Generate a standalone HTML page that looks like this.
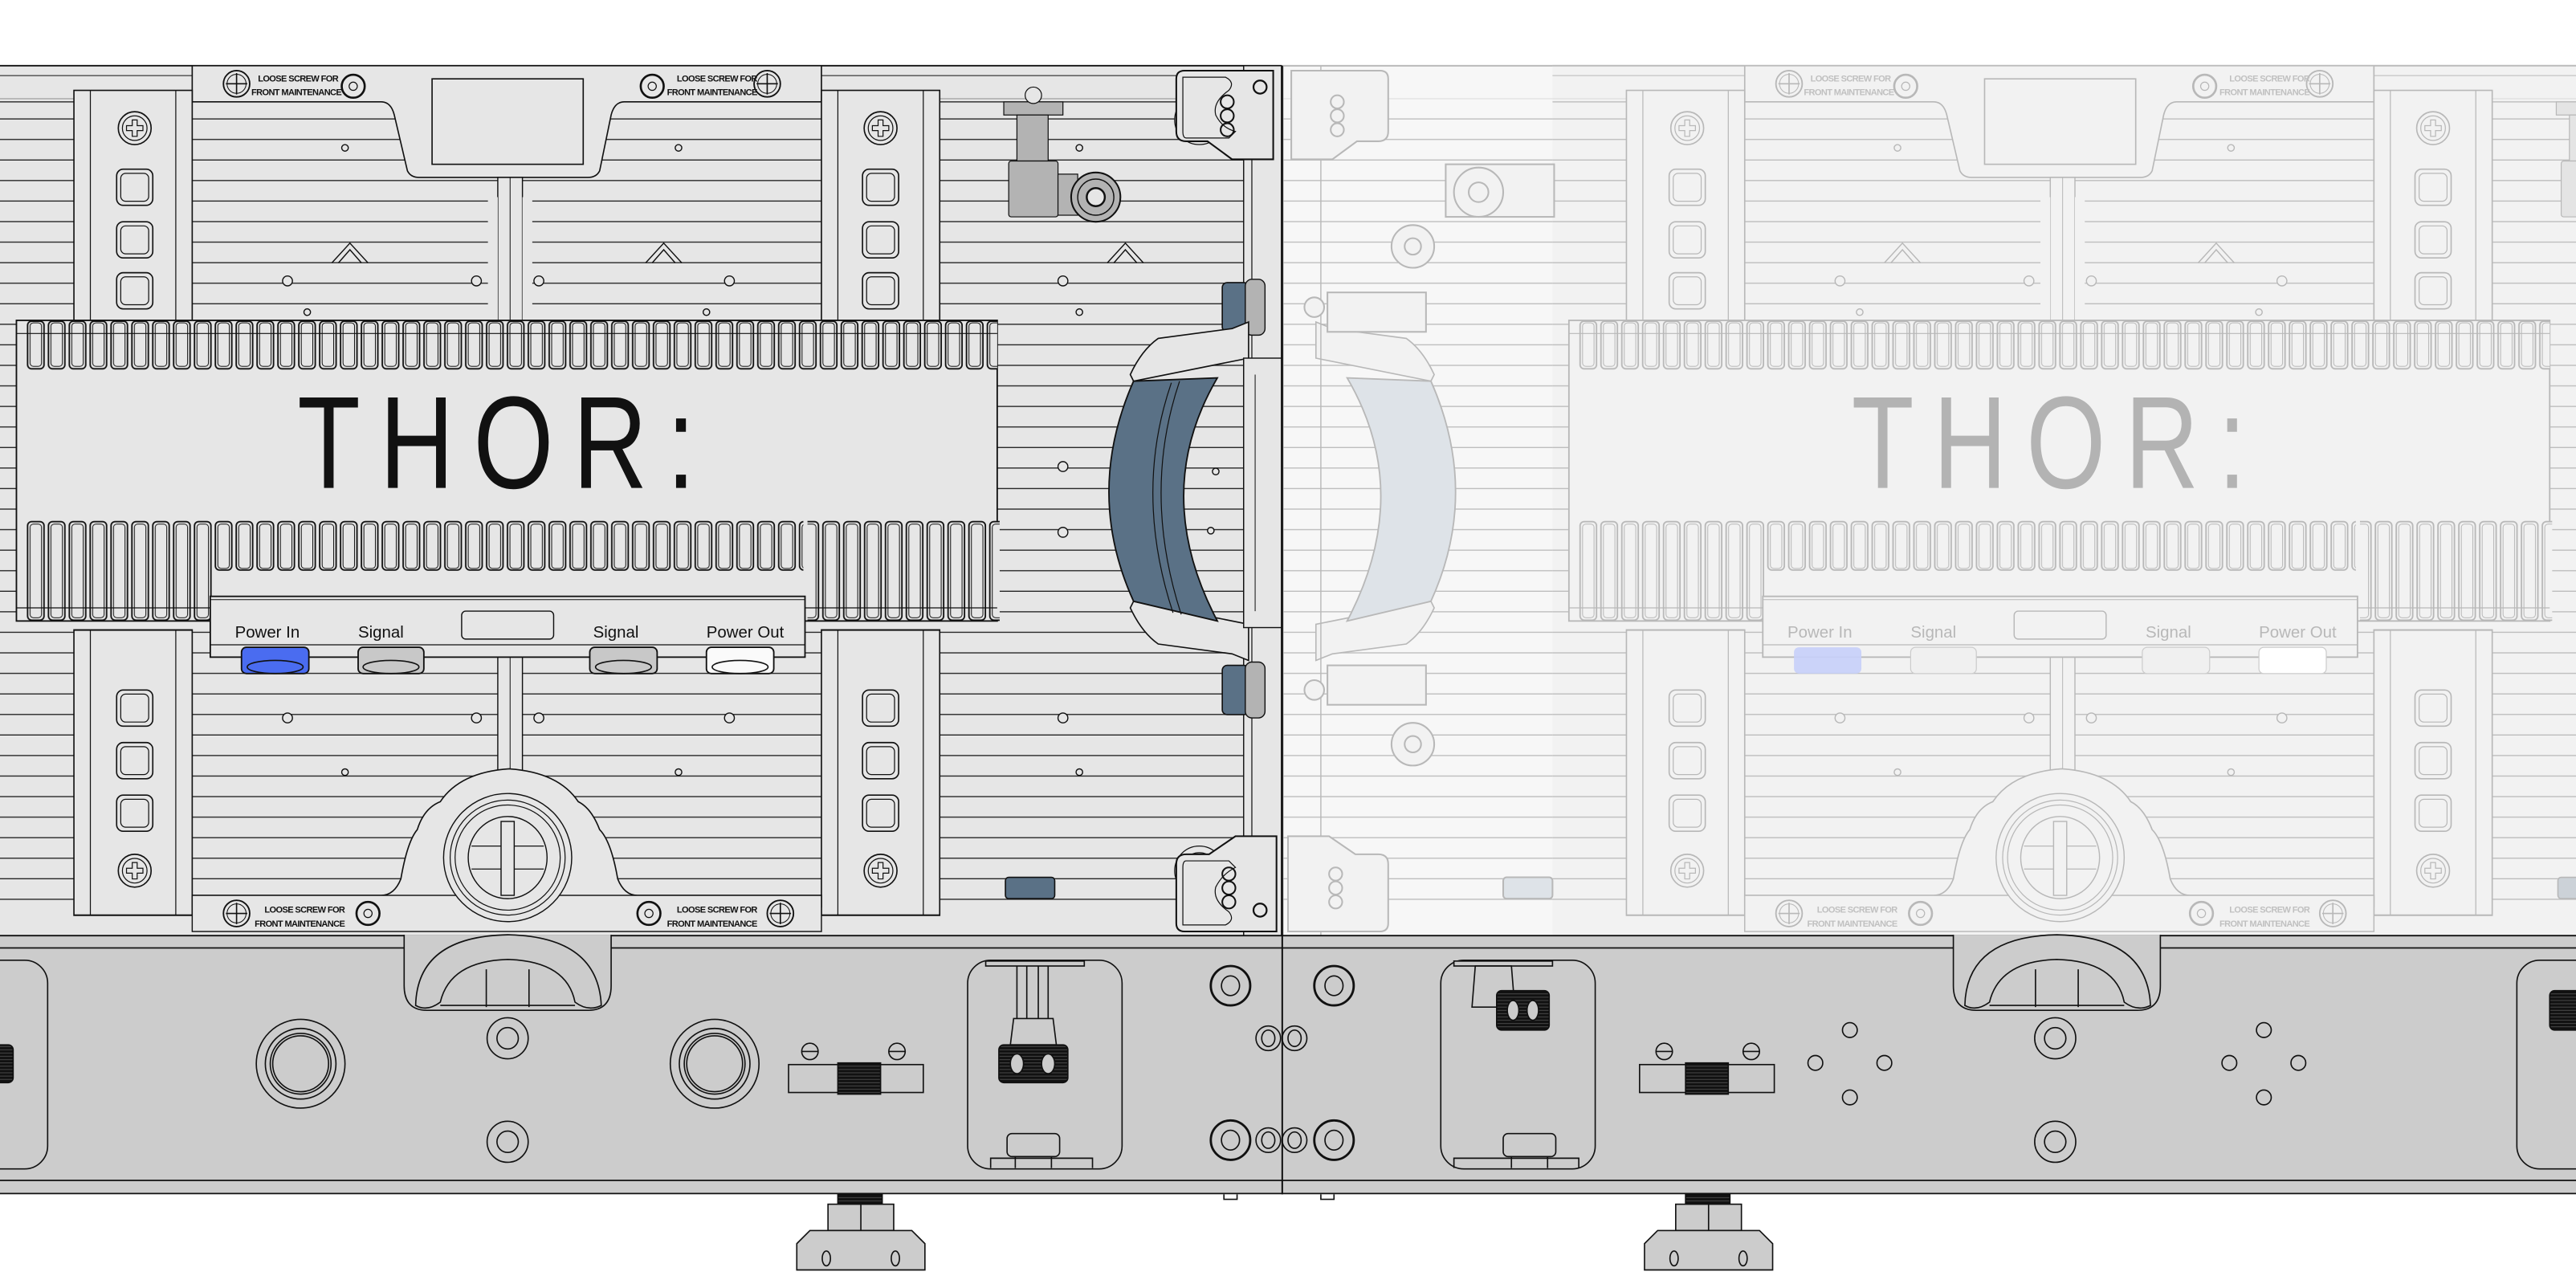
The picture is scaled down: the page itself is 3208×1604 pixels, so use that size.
<!DOCTYPE html>
<html><head><meta charset="utf-8"><style>
html,body{margin:0;padding:0;background:#fff;}
svg{display:block;}
.t{font-family:"Liberation Sans",sans-serif;}
</style></head><body>
<svg width="3208" height="1604" viewBox="0 0 1568 784" xmlns="http://www.w3.org/2000/svg">
<defs>
<pattern id="slat" patternUnits="userSpaceOnUse" x="0" y="72" width="20" height="12.5">
<line x1="0" y1="0.4" x2="20" y2="0.4" stroke="#222" stroke-width="0.7"/>
</pattern>
<pattern id="finT" patternUnits="userSpaceOnUse" x="16" y="195" width="12.7" height="40">
<rect x="0.8" y="0.5" width="10" height="29" rx="2.5" fill="#e6e6e6" stroke="#111" stroke-width="0.9"/>
<rect x="2.3" y="1.5" width="7" height="26.5" rx="2" fill="none" stroke="#111" stroke-width="0.5"/>
</pattern>
<pattern id="finB" patternUnits="userSpaceOnUse" x="16" y="317" width="12.7" height="80">
<rect x="0.8" y="0.5" width="10" height="29.5" rx="2.5" fill="#e6e6e6" stroke="#111" stroke-width="0.9"/>
<rect x="2.3" y="2" width="7" height="27" rx="2" fill="none" stroke="#111" stroke-width="0.5"/>
</pattern>
<pattern id="finL" patternUnits="userSpaceOnUse" x="16" y="317" width="12.7" height="80">
<rect x="0.8" y="0.5" width="10" height="60" rx="2.5" fill="#e6e6e6" stroke="#111" stroke-width="0.9"/>
<rect x="2.3" y="2" width="7" height="57" rx="2" fill="none" stroke="#111" stroke-width="0.5"/>
</pattern>
<pattern id="knurl" patternUnits="userSpaceOnUse" width="2" height="2">
<rect width="2" height="2" fill="#111"/><line x1="0" y1="1" x2="2" y2="1" stroke="#555" stroke-width="0.4"/>
</pattern>

<g id="sq">
<rect x="0" y="0" width="22" height="22" rx="4" fill="#e6e6e6" stroke="#111" stroke-width="0.8"/>
<rect x="2.5" y="2.5" width="17" height="17" rx="3" fill="none" stroke="#111" stroke-width="0.6"/>
</g>
<g id="screw">
<circle r="10" fill="#e6e6e6" stroke="#111" stroke-width="0.8"/>
<circle r="7.5" fill="none" stroke="#111" stroke-width="0.6"/>
<path d="M-1.5 -5h3v3.5h3.5v3h-3.5v3.5h-3v-3.5h-3.5v-3h3.5z" fill="none" stroke="#111" stroke-width="0.6"/>
</g>
<g id="col">
<rect x="0" y="0" width="72" height="140" fill="#e6e6e6" stroke="#111" stroke-width="0.8"/>
<line x1="10" y1="0" x2="10" y2="140" stroke="#111" stroke-width="0.6"/>
<line x1="62" y1="0" x2="62" y2="140" stroke="#111" stroke-width="0.6"/>
</g>
<g id="loose">
<circle cx="0" cy="0" r="8" fill="#e6e6e6" stroke="#111" stroke-width="0.9"/>
<path d="M0 -6.5V6.5M-6.5 0H6.5" stroke="#111" stroke-width="0.8"/>
<circle cx="0" cy="0" r="5.8" fill="none" stroke="#111" stroke-width="0.5"/>
</g>
<g id="loose2">
<circle cx="0" cy="0" r="7" fill="#e6e6e6" stroke="#111" stroke-width="1.3"/>
<circle cx="0" cy="0" r="2.5" fill="none" stroke="#111" stroke-width="0.6"/>
</g>

<!-- The panel body (shapes only) -->
<g id="P">
<rect x="0" y="40" width="780" height="530" fill="#e6e6e6"/>
<rect x="0" y="60" width="760" height="490" fill="url(#slat)"/>
<line x1="0" y1="40" x2="780" y2="40" stroke="#111" stroke-width="0.9"/>
<line x1="0" y1="46" x2="760" y2="46" stroke="#111" stroke-width="0.5"/>
<line x1="0" y1="62" x2="760" y2="62" stroke="#111" stroke-width="0.6"/>
<!-- top plate -->
<path d="M117 40 H500 V62 H380 Q374 62 372 70 L365 104 Q363 108 358 108 H255 Q250 108 248 104 L240 70 Q238 62 232 62 H117 Z" fill="#e6e6e6" stroke="#111" stroke-width="0.8"/>
<rect x="263" y="48" width="92" height="52" fill="#e6e6e6" stroke="#111" stroke-width="0.8"/>
<use href="#loose" x="144" y="51"/><use href="#loose2" x="215" y="52.5"/>
<use href="#loose2" x="397" y="52.5"/><use href="#loose" x="467" y="51"/>
<!-- central bar -->
<rect x="303" y="108" width="15" height="90" fill="#e6e6e6" stroke="#111" stroke-width="0.7"/>
<line x1="310.5" y1="108" x2="310.5" y2="198" stroke="#111" stroke-width="0.5"/>
<rect x="303" y="398" width="15" height="72" fill="#e6e6e6" stroke="#111" stroke-width="0.7"/>
<line x1="310.5" y1="398" x2="310.5" y2="470" stroke="#111" stroke-width="0.5"/>
<!-- gap lines beside center bar -->
<rect x="297" y="120" width="6" height="75" fill="#e6e6e6"/><rect x="318" y="120" width="6" height="75" fill="#e6e6e6"/>
<!-- triangles -->
<path d="M202 160 L213 148 L224 160 M206 160 L213 152 L220 160" fill="none" stroke="#111" stroke-width="0.7"/>
<path d="M393 160 L404 148 L415 160 M397 160 L404 152 L411 160" fill="none" stroke="#111" stroke-width="0.7"/>
<path d="M674 160 L685 148 L696 160 M678 160 L685 152 L692 160" fill="none" stroke="#111" stroke-width="0.7"/>
<!-- small holes -->
<g fill="#e6e6e6" stroke="#111" stroke-width="0.7">
<circle cx="210" cy="90" r="2"/><circle cx="413" cy="90" r="2"/><circle cx="657" cy="90" r="2"/>
<circle cx="187" cy="190" r="2"/><circle cx="430" cy="190" r="2"/><circle cx="657" cy="190" r="2"/>
<circle cx="175" cy="171" r="3"/><circle cx="290" cy="171" r="3"/><circle cx="328" cy="171" r="3"/><circle cx="444" cy="171" r="3"/><circle cx="647" cy="171" r="3"/>
<circle cx="647" cy="284" r="3"/><circle cx="647" cy="324" r="3"/><circle cx="740" cy="287" r="2"/><circle cx="737" cy="323" r="2"/>
<circle cx="175" cy="437" r="3"/><circle cx="290" cy="437" r="3"/><circle cx="328" cy="437" r="3"/><circle cx="444" cy="437" r="3"/><circle cx="647" cy="437" r="3"/>
<circle cx="210" cy="470" r="2"/><circle cx="413" cy="470" r="2"/><circle cx="657" cy="470" r="2"/>
</g>
<!-- upper columns -->
<use href="#col" x="45" y="55"/><use href="#col" x="500" y="55"/>
<use href="#screw" x="82" y="78"/><use href="#screw" x="536" y="78"/>
<use href="#sq" x="71" y="103"/><use href="#sq" x="71" y="135"/><use href="#sq" x="71" y="166"/>
<use href="#sq" x="525" y="103"/><use href="#sq" x="525" y="135"/><use href="#sq" x="525" y="166"/>
<!-- lower columns -->
<use href="#col" x="45" y="400" transform="translate(0,-22) scale(1,1.24) translate(0,-73)"/>
<use href="#col" x="500" y="400" transform="translate(0,-22) scale(1,1.24) translate(0,-73)"/>
<use href="#sq" x="71" y="420"/><use href="#sq" x="71" y="452"/><use href="#sq" x="71" y="484"/>
<use href="#sq" x="525" y="420"/><use href="#sq" x="525" y="452"/><use href="#sq" x="525" y="484"/>
<use href="#screw" x="82" y="530"/><use href="#screw" x="536" y="530"/>
<!-- bottom plate with round cap -->
<path d="M117 552 H500 V545 H388 Q380 545 376 535 Q372 512 365 505 Q360 492 352 488 Q340 470 310 468 Q280 470 268 488 Q258 492 254 505 Q248 512 244 535 Q240 545 232 545 H117 Z" fill="#e6e6e6" stroke="#111" stroke-width="0.8"/>
<rect x="117" y="545" width="383" height="22" fill="#e6e6e6" stroke="#111" stroke-width="0.7"/>
<ellipse cx="309" cy="522" rx="39" ry="39" fill="#e6e6e6" stroke="#111" stroke-width="0.7"/>
<ellipse cx="309" cy="522" rx="35" ry="35" fill="none" stroke="#111" stroke-width="0.6"/>
<ellipse cx="309" cy="522" rx="32" ry="32" fill="none" stroke="#111" stroke-width="0.6"/>
<ellipse cx="309" cy="522" rx="24" ry="25" fill="none" stroke="#111" stroke-width="0.7"/>
<rect x="305" y="500" width="8" height="45" fill="#e6e6e6" stroke="#111" stroke-width="0.7"/>
<path d="M287 515h18M313 515h18M287 529h18M313 529h18" stroke="#111" stroke-width="0.6"/>
<use href="#loose" x="144" y="556"/><use href="#loose2" x="224" y="556"/>
<use href="#loose2" x="395" y="556"/><use href="#loose" x="475" y="556"/>
<!-- heat sink -->
<rect x="10" y="195" width="597" height="183" fill="#e6e6e6" stroke="#111" stroke-width="0.9"/>
<rect x="16" y="195" width="591" height="31" fill="url(#finT)"/>
<line x1="10" y1="203" x2="607" y2="203" stroke="#111" stroke-width="0.6"/>
<rect x="16" y="317" width="114" height="62" fill="url(#finL)"/>
<rect x="130" y="317" width="359" height="31" fill="url(#finB)"/>
<rect x="490" y="317" width="117" height="62" fill="url(#finL)" transform="translate(1.5,0)"/>
<line x1="10" y1="370" x2="607" y2="370" stroke="#111" stroke-width="0.6"/>
<!-- port plate -->
<rect x="128" y="363" width="362" height="37" fill="#e6e6e6" stroke="#111" stroke-width="0.9"/>
<line x1="128" y1="365" x2="490" y2="365" stroke="#111" stroke-width="0.5"/>
<line x1="128" y1="392.5" x2="490" y2="392.5" stroke="#111" stroke-width="0.6"/>
<rect x="281" y="372" width="56" height="17" rx="2.5" fill="none" stroke="#111" stroke-width="0.7"/>
<!-- right edge rail -->
<rect x="757" y="40" width="23" height="530" fill="#e6e6e6" stroke="#111" stroke-width="0.7"/>
<line x1="762" y1="97" x2="762" y2="510" stroke="#111" stroke-width="0.6"/>
<!-- gray latch -->
<rect x="611" y="62" width="36" height="8" fill="#b3b3b3" stroke="#111" stroke-width="0.6"/>
<rect x="619" y="70" width="19" height="28" fill="#b3b3b3" stroke="#111" stroke-width="0.6"/>
<rect x="614" y="98" width="30" height="34" rx="1.5" fill="#b3b3b3" stroke="#111" stroke-width="0.6"/>
<rect x="644" y="106" width="12" height="25" fill="#b3b3b3" stroke="#111" stroke-width="0.6"/>
<circle cx="629" cy="58" r="5" fill="#e6e6e6" stroke="#111" stroke-width="0.6"/>
<circle cx="667" cy="120" r="15" fill="#b3b3b3" stroke="#111" stroke-width="1"/>
<circle cx="667" cy="120" r="11" fill="none" stroke="#111" stroke-width="0.7"/>
<circle cx="667" cy="120" r="5.5" fill="#e6e6e6" stroke="#111" stroke-width="1.2"/>
<!-- top latch -->
<circle cx="730" cy="73" r="15" fill="#e6e6e6" stroke="#111" stroke-width="0.6"/>
<circle cx="730" cy="73" r="11" fill="none" stroke="#111" stroke-width="0.6"/>
<path d="M716 48 Q716 43 721 43 H775 V97 H750 L735 86 H722 Q716 86 716 80 Z" fill="#e6e6e6" stroke="#111" stroke-width="1"/>
<path d="M720 47 H746 Q752 50 748 55 Q738 62 740 70 Q744 78 752 80 L748 84 H722 Q720 84 720 80 Z" fill="none" stroke="#111" stroke-width="0.6"/>
<circle cx="747" cy="62" r="4" fill="none" stroke="#111" stroke-width="1"/><circle cx="747" cy="70.5" r="4" fill="none" stroke="#111" stroke-width="1"/><circle cx="747" cy="79" r="4" fill="none" stroke="#111" stroke-width="1"/>
<circle cx="767" cy="53" r="4" fill="none" stroke="#111" stroke-width="1.1"/>
<!-- bottom latch -->
<circle cx="730" cy="530" r="15" fill="#e6e6e6" stroke="#111" stroke-width="0.6"/>
<circle cx="730" cy="530" r="11" fill="none" stroke="#111" stroke-width="0.6"/>
<path d="M716 562 Q716 567 721 567 H777 V509 H752 L736 520 H722 Q716 520 716 526 Z" fill="#e6e6e6" stroke="#111" stroke-width="1"/>
<path d="M720 563 H746 Q752 560 748 555 Q738 548 740 540 Q744 532 752 528 L748 524 H722 Q720 524 720 528 Z" fill="none" stroke="#111" stroke-width="0.6"/>
<circle cx="748" cy="532" r="4" fill="none" stroke="#111" stroke-width="1"/><circle cx="748" cy="540.5" r="4" fill="none" stroke="#111" stroke-width="1"/><circle cx="748" cy="549" r="4" fill="none" stroke="#111" stroke-width="1"/>
<circle cx="767" cy="554" r="4" fill="none" stroke="#111" stroke-width="1.1"/>
<!-- blue tabs -->
<rect x="744" y="172" width="16" height="30" rx="3" fill="#5a7186" stroke="#111" stroke-width="0.8"/>
<rect x="758" y="170" width="12" height="34" rx="4" fill="#b3b3b3" stroke="#111" stroke-width="0.7"/>
<rect x="744" y="405" width="16" height="30" rx="3" fill="#5a7186" stroke="#111" stroke-width="0.8"/>
<rect x="758" y="403" width="12" height="34" rx="4" fill="#b3b3b3" stroke="#111" stroke-width="0.7"/>
<rect x="612" y="534" width="30" height="13" rx="2" fill="#5a7186" stroke="#111" stroke-width="0.8"/>
<!-- handle frame -->
<path d="M760 196 L750 200 L705 206 Q695 213 688 228 L690 232 L760 218 Z" fill="#e6e6e6" stroke="#111" stroke-width="0.8"/>
<path d="M760 402 L750 398 L705 392 Q695 385 688 370 L690 366 L760 380 Z" fill="#e6e6e6" stroke="#111" stroke-width="0.8"/>
<rect x="757" y="218" width="23" height="164" fill="#e6e6e6" stroke="#111" stroke-width="0.7"/>
<line x1="764" y1="228" x2="764" y2="372" stroke="#111" stroke-width="0.5"/>
<path d="M690 232 Q660 300 690 366 L741 378 Q700 300 741 230 Z" fill="#5a7186" stroke="#111" stroke-width="0.9"/>
<path d="M713 233 Q690 300 714 373 M718 232 Q695 300 719 374" fill="none" stroke="#111" stroke-width="0.6"/>
</g>
</defs>

<!-- Right (faded) panel -->
<rect x="780" y="40" width="788" height="530" fill="#f7f7f7"/>
<g opacity="0.27">
<rect x="780" y="60" width="788" height="490" fill="url(#slat)"/>
<line x1="780" y1="40" x2="1568" y2="40" stroke="#111"/>
<svg x="780" y="0" width="788" height="784" viewBox="780 0 788 784" overflow="hidden">
<use href="#P" x="945" y="0"/>
<!-- mirrored handle + latches near seam -->
<g transform="translate(1561,0) scale(-1,1)">
<path d="M760 196 L750 200 L705 206 Q695 213 688 228 L690 232 L760 218 Z" fill="#e6e6e6" stroke="#111" stroke-width="0.8"/>
<path d="M760 402 L750 398 L705 392 Q695 385 688 370 L690 366 L760 380 Z" fill="#e6e6e6" stroke="#111" stroke-width="0.8"/>
<path d="M690 232 Q660 300 690 366 L741 378 Q700 300 741 230 Z" fill="#9fb0c2" stroke="#111" stroke-width="0.9"/>
<rect x="757" y="40" width="23" height="530" fill="none" stroke="#111" stroke-width="0.7"/>
<path d="M716 48 Q716 43 721 43 H775 V97 H750 L735 86 H722 Q716 86 716 80 Z" fill="#e6e6e6" stroke="#111" stroke-width="1"/>
<circle cx="747" cy="62" r="4" fill="none" stroke="#111"/><circle cx="747" cy="70.5" r="4" fill="none" stroke="#111"/><circle cx="747" cy="79" r="4" fill="none" stroke="#111"/>
<path d="M716 562 Q716 567 721 567 H777 V509 H752 L736 520 H722 Q716 520 716 526 Z" fill="#e6e6e6" stroke="#111" stroke-width="1"/>
<circle cx="748" cy="532" r="4" fill="none" stroke="#111"/><circle cx="748" cy="540.5" r="4" fill="none" stroke="#111"/><circle cx="748" cy="549" r="4" fill="none" stroke="#111"/>
</g>
<rect x="808" y="178" width="60" height="24" fill="#e6e6e6" stroke="#111"/><circle cx="860" cy="150" r="13" fill="#e6e6e6" stroke="#111"/><circle cx="860" cy="150" r="5" fill="none" stroke="#111"/>
<rect x="808" y="405" width="60" height="24" fill="#e6e6e6" stroke="#111"/><circle cx="860" cy="453" r="13" fill="#e6e6e6" stroke="#111"/><circle cx="860" cy="453" r="5" fill="none" stroke="#111"/>
<circle cx="800" cy="187" r="6" fill="#e6e6e6" stroke="#111"/><circle cx="800" cy="420" r="6" fill="#e6e6e6" stroke="#111"/>
<rect x="880" y="100" width="66" height="32" fill="#e6e6e6" stroke="#111"/><circle cx="900" cy="117" r="15" fill="#e6e6e6" stroke="#111"/><circle cx="900" cy="117" r="6" fill="none" stroke="#111"/>
<rect x="915" y="534" width="30" height="13" rx="2" fill="#9fb0c2" stroke="#111"/>
</svg>
</g>
<!-- faded port colors -->
<rect x="1092" y="394" width="41" height="16" rx="3" fill="#c7cffa" opacity="0.9"/>
<rect x="1163" y="394" width="40" height="16" rx="3" fill="#f0f0f0" stroke="#ccc" stroke-width="0.6"/>
<rect x="1304" y="394" width="41" height="16" rx="3" fill="#f0f0f0" stroke="#ccc" stroke-width="0.6"/>
<rect x="1375" y="394" width="41" height="16" rx="3" fill="#fff" stroke="#ccc" stroke-width="0.6"/>

<!-- Left panel -->
<svg x="0" y="0" width="781" height="784" viewBox="0 0 781 784" overflow="hidden"><use href="#P"/></svg>
<line x1="780.5" y1="40" x2="780.5" y2="726" stroke="#111" stroke-width="1"/>

<!-- ports left -->
<g stroke="#111" stroke-width="0.9">
<rect x="147" y="394" width="41" height="16" rx="3" fill="#4a6cf0"/>
<rect x="218" y="394" width="40" height="16" rx="3" fill="#c8c8c8"/>
<rect x="359" y="394" width="41" height="16" rx="3" fill="#c8c8c8"/>
<rect x="430" y="394" width="41" height="16" rx="3" fill="#fafafa"/>
</g>
<g fill="none" stroke="#111" stroke-width="0.8">
<ellipse cx="167.5" cy="406" rx="17" ry="4"/><ellipse cx="238" cy="406" rx="17" ry="4"/><ellipse cx="379.5" cy="406" rx="17" ry="4"/><ellipse cx="450.5" cy="406" rx="17" ry="4"/>
</g>

<!-- TEXT -->
<text class="t" x="181" y="297" font-size="80" letter-spacing="15" fill="#111" textLength="254" lengthAdjust="spacingAndGlyphs">THOR:</text>
<text class="t" x="1127" y="297" font-size="80" letter-spacing="15" fill="#b3b3b3" textLength="252" lengthAdjust="spacingAndGlyphs">THOR:</text>
<g class="t" font-size="10" fill="#111">
<text x="143" y="388">Power  In</text><text x="218" y="388">Signal</text><text x="361" y="388">Signal</text><text x="430" y="388">Power  Out</text>
</g>
<g class="t" font-size="10" fill="#b8b8b8">
<text x="1088" y="388">Power  In</text><text x="1163" y="388">Signal</text><text x="1306" y="388">Signal</text><text x="1375" y="388">Power  Out</text>
</g>
<g class="t" font-size="5.4" font-weight="bold" fill="#111" letter-spacing="-0.3">
<text x="157" y="49.5">LOOSE SCREW FOR</text><text x="153" y="58">FRONT MAINTENANCE</text>
<text x="412" y="49.5">LOOSE SCREW FOR</text><text x="406" y="58">FRONT MAINTENANCE</text>
<text x="161" y="555.5">LOOSE SCREW FOR</text><text x="155" y="564">FRONT MAINTENANCE</text>
<text x="412" y="555.5">LOOSE SCREW FOR</text><text x="406" y="564">FRONT MAINTENANCE</text>
</g>
<g class="t" font-size="5.4" font-weight="bold" fill="#c0c0c0" letter-spacing="-0.3">
<text x="1102" y="49.5">LOOSE SCREW FOR</text><text x="1098" y="58">FRONT MAINTENANCE</text>
<text x="1357" y="49.5">LOOSE SCREW FOR</text><text x="1351" y="58">FRONT MAINTENANCE</text>
<text x="1106" y="555.5">LOOSE SCREW FOR</text><text x="1100" y="564">FRONT MAINTENANCE</text>
<text x="1357" y="555.5">LOOSE SCREW FOR</text><text x="1351" y="564">FRONT MAINTENANCE</text>
</g>

<!-- Bottom bar -->
<rect x="0" y="569.5" width="1568" height="157" fill="#cccccc"/>
<g stroke="#111" stroke-width="0.9" fill="none">
<line x1="0" y1="569.5" x2="1568" y2="569.5"/>
<line x1="0" y1="577" x2="1568" y2="577"/>
<line x1="0" y1="718.5" x2="1568" y2="718.5"/>
<line x1="0" y1="726.5" x2="1568" y2="726.5"/>
</g>
<line x1="780.5" y1="569" x2="780.5" y2="727" stroke="#111" stroke-width="1"/>

<!-- cutouts with arch -->
<g id="arch" stroke="#111" stroke-width="0.8">
<path d="M246 569 V600 Q246 615 260 615 H358 Q372 615 372 600 V569" fill="#cccccc"/>
<path d="M253 612 Q254 570 309 569 Q364 570 366 612 Q358 616 350 610 Q345 585 309 584 Q274 585 268 610 Q260 616 253 612 Z" fill="#cccccc"/>
<path d="M296 590 V613 M322 590 V613 M268 612 H350" fill="none"/>
</g>
<use href="#arch" x="943"/>

<g fill="none" stroke="#111" stroke-width="0.8">
<!-- big holes -->
<circle cx="183" cy="647.5" r="27"/><circle cx="183" cy="647.5" r="21.5"/><circle cx="183" cy="647.5" r="18.5"/><circle cx="183" cy="647.5" r="17"/>
<circle cx="435" cy="647.5" r="27"/><circle cx="435" cy="647.5" r="21.5"/><circle cx="435" cy="647.5" r="18.5"/><circle cx="435" cy="647.5" r="17"/>
<circle cx="309" cy="632" r="12.5"/><circle cx="309" cy="632" r="6.5"/>
<circle cx="309" cy="695" r="12.5"/><circle cx="309" cy="695" r="6.5"/>
<circle cx="1251" cy="632" r="12.5"/><circle cx="1251" cy="632" r="6.5"/>
<circle cx="1251" cy="695" r="12.5"/><circle cx="1251" cy="695" r="6.5"/>
<!-- seam holes -->
<ellipse cx="749" cy="600" rx="12" ry="12" stroke-width="1.4"/><ellipse cx="749" cy="600" rx="5.5" ry="6"/>
<ellipse cx="812" cy="600" rx="12" ry="12" stroke-width="1.4"/><ellipse cx="812" cy="600" rx="5.5" ry="6"/>
<ellipse cx="749" cy="694" rx="12" ry="12" stroke-width="1.4"/><ellipse cx="749" cy="694" rx="5.5" ry="6"/>
<ellipse cx="812" cy="694" rx="12" ry="12" stroke-width="1.4"/><ellipse cx="812" cy="694" rx="5.5" ry="6"/>
<ellipse cx="772" cy="632" rx="7.5" ry="7.5"/><ellipse cx="772" cy="632" rx="4" ry="5"/>
<ellipse cx="788" cy="632" rx="7.5" ry="7.5"/><ellipse cx="788" cy="632" rx="4" ry="5"/>
<ellipse cx="772" cy="694" rx="7.5" ry="7.5"/><ellipse cx="772" cy="694" rx="4" ry="5"/>
<ellipse cx="788" cy="694" rx="7.5" ry="7.5"/><ellipse cx="788" cy="694" rx="4" ry="5"/>
<!-- 4 hole patterns -->
<circle cx="1105" cy="647" r="4.5"/><circle cx="1126" cy="627" r="4.5"/><circle cx="1147" cy="647" r="4.5"/><circle cx="1126" cy="668" r="4.5"/>
<circle cx="1357" cy="647" r="4.5"/><circle cx="1378" cy="627" r="4.5"/><circle cx="1399" cy="647" r="4.5"/><circle cx="1378" cy="668" r="4.5"/>
<!-- rounded pockets -->
<rect x="589" y="584.5" width="94" height="127" rx="14"/>
<rect x="877" y="584.5" width="94" height="127" rx="14"/>
<rect x="-70" y="584.5" width="99" height="127" rx="14"/>
<rect x="1532" y="584.5" width="94" height="127" rx="14"/>
</g>
<!-- left pocket knob -->
<g stroke="#111" stroke-width="0.8">
<rect x="600" y="585" width="60" height="3" fill="#cccccc"/>
<path d="M619 588 V620 M625 588 V620 M632 588 V620 M638 588 V620" fill="none"/>
<path d="M617 620 H641 L643 636 H615 Z" fill="#cccccc"/>
<rect x="608" y="636" width="42" height="23" rx="3" fill="url(#knurl)"/>
<ellipse cx="619" cy="647.5" rx="4" ry="6" fill="#cccccc"/><ellipse cx="638" cy="647.5" rx="4" ry="6" fill="#cccccc"/>
<rect x="613" y="690" width="32" height="14" rx="3" fill="#cccccc"/>
<path d="M603 711 V705 H665 V711 M618 704 V711 M640 704 V711" fill="none"/>
<!-- right pocket knob -->
<rect x="885" y="585" width="60" height="3" fill="#cccccc"/>
<path d="M898 588 H920 L922 613 H912 L896 613 Z" fill="#cccccc"/>
<rect x="911" y="603" width="32" height="24" rx="3" fill="url(#knurl)"/>
<ellipse cx="921" cy="615" rx="3.5" ry="6" fill="#cccccc"/><ellipse cx="933" cy="615" rx="3.5" ry="6" fill="#cccccc"/>
<rect x="915" y="690" width="32" height="14" rx="3" fill="#cccccc"/>
<path d="M885 711 V705 H961 V711 M920 704 V711 M942 704 V711" fill="none"/>
<!-- edge knobs -->
<rect x="-10" y="636" width="18" height="23" rx="3" fill="url(#knurl)"/>
<rect x="1552" y="603" width="30" height="24" rx="3" fill="url(#knurl)"/>
<!-- brackets -->
<rect x="480" y="648" width="82" height="17" fill="#cccccc"/>
<rect x="510" y="647" width="26" height="19" fill="url(#knurl)"/>
<ellipse cx="493" cy="640" rx="5" ry="5" fill="#cccccc"/><line x1="488" y1="640" x2="498" y2="640"/>
<ellipse cx="546" cy="640" rx="5" ry="5" fill="#cccccc"/><line x1="541" y1="640" x2="551" y2="640"/>
<rect x="998" y="648" width="82" height="17" fill="#cccccc"/>
<rect x="1026" y="647" width="26" height="19" fill="url(#knurl)"/>
<ellipse cx="1013" cy="640" rx="5" ry="5" fill="#cccccc"/><line x1="1008" y1="640" x2="1018" y2="640"/>
<ellipse cx="1066" cy="640" rx="5" ry="5" fill="#cccccc"/><line x1="1061" y1="640" x2="1071" y2="640"/>
<!-- feet -->
<g id="foot">
<rect x="510" y="727" width="27" height="6" fill="url(#knurl)"/>
<rect x="504" y="733" width="40" height="16" fill="#cccccc"/>
<line x1="524" y1="733" x2="524" y2="749"/>
<path d="M493 749 H555 L563 757 V773 H485 V757 Z" fill="#cccccc"/>
<ellipse cx="503" cy="766" rx="2.5" ry="4.5" fill="#cccccc"/><ellipse cx="545" cy="766" rx="2.5" ry="4.5" fill="#cccccc"/>
</g>
<use href="#foot" x="516"/>
<!-- tiny tabs under seam -->
<path d="M745 727 v3 h8 v-3 M804 727 v3 h8 v-3" fill="none"/>
</g>
</svg>
</body></html>
